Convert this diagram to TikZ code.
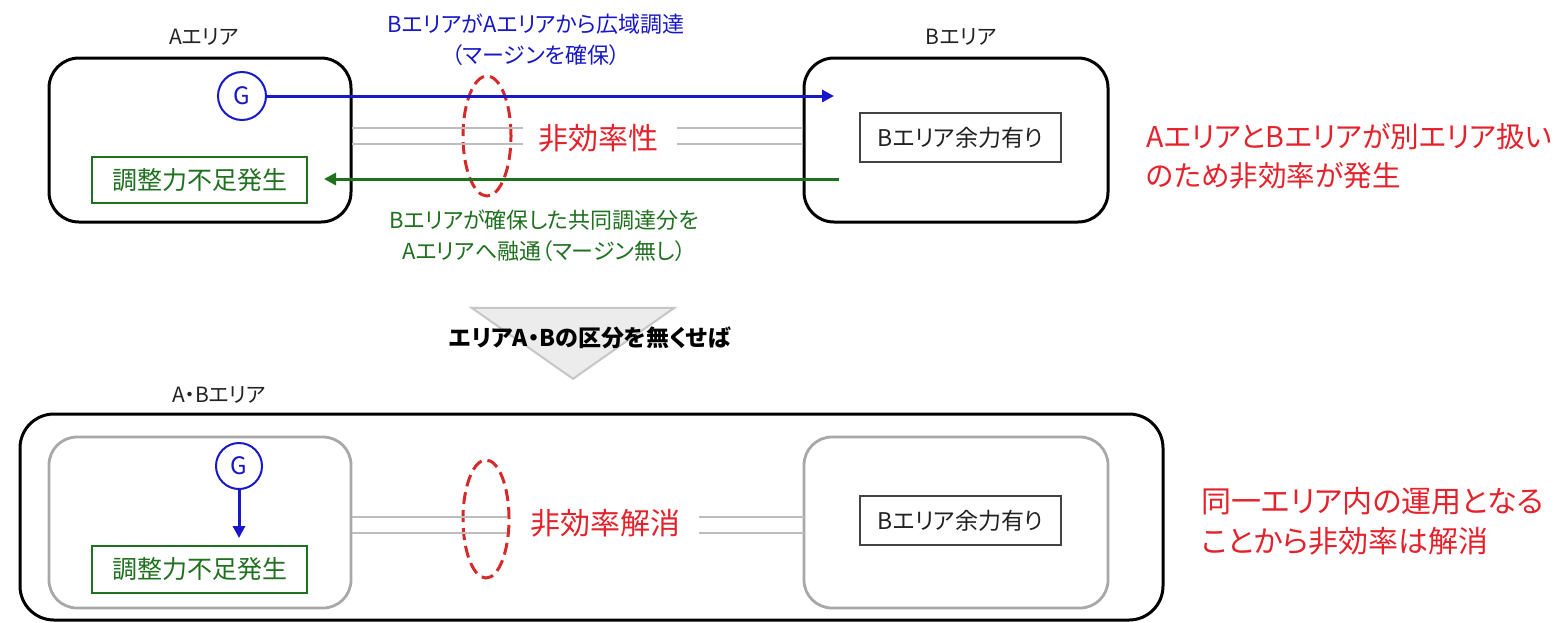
\documentclass[tikz,border=0pt]{standalone}
\usepackage{fontspec}
\setmainfont{Noto Sans CJK JP}[CharacterWidth=AlternateProportional]
\usetikzlibrary{arrows.meta,shapes.geometric}
\definecolor{myblue}{HTML}{1818C8}
\definecolor{mygreen}{HTML}{1F701F}
\definecolor{myred}{HTML}{E4222C}
\definecolor{ellred}{HTML}{D62A2A}
\definecolor{txtdark}{HTML}{222222}
\definecolor{boxgray}{HTML}{A8A8A8}
\definecolor{linegray}{HTML}{BDBDBD}
\definecolor{trifill}{HTML}{ECECEC}
\definecolor{triedge}{HTML}{C6C6C6}
\tikzset{
  areabox/.style={draw=black, line width=1.5pt, rounded corners=15pt, minimum width=#1, inner sep=0pt},
  innerbox/.style={draw=boxgray, line width=1.4pt, rounded corners=14pt, inner sep=0pt},
  greenbox/.style={draw=mygreen, line width=0.7pt, text=mygreen, minimum width=107.5pt, minimum height=23pt, inner sep=0pt, font=\fontsize{12.5}{14}\selectfont},
  surplusbox/.style={draw=txtdark!85, line width=0.7pt, text=txtdark, minimum width=100.5pt, minimum height=24.5pt, inner sep=0pt, font=\fontsize{11.5}{14}\selectfont},
  gcircle/.style={circle, draw=myblue, line width=1pt, text=myblue, minimum size=24pt, inner sep=0pt, font=\fontsize{12}{14}\selectfont},
  dashell/.style={ellipse, draw=ellred, line width=1.5pt, dash pattern=on 6pt off 3pt, minimum width=24pt, minimum height=60pt, inner sep=0pt},
  arealabel/.style={text=txtdark, font=\fontsize{10.5}{12}\selectfont, inner sep=0pt},
  notelabel/.style={align=center, inner sep=0pt, font=\fontsize{11}{15.5}\selectfont},
  inefflabel/.style={text=myred, inner sep=0pt, font=\fontsize{15}{18}\selectfont},
  sidenote/.style={text=myred, align=left, anchor=west, inner sep=0pt, font=\fontsize{15}{20}\selectfont},
  grayline/.style={draw=linegray, line width=1.2pt},
  blueflow/.style={draw=myblue, line width=1.5pt, -{Triangle[length=6pt,width=6pt]}},
  greenflow/.style={draw=mygreen, line width=1.5pt, -{Triangle[length=6pt,width=6pt]}}
}
\begin{document}
\begin{tikzpicture}[x=0.5pt,y=-0.5pt]
\fill[white] (0,0) rectangle (1566,622);
\useasboundingbox (0,0) rectangle (1566,622);

% ---------- top section ----------
\node[arealabel] (alabel) at (204,37) {Aエリア};
\node[arealabel] (blabel) at (961,37) {Bエリア};
\node[areabox=151pt, minimum height=82pt] (abox) at (200,140) {};
\node[areabox=152pt, minimum height=82pt] (bbox) at (956,140) {};

\node[gcircle] (g1) at (242,96) {G};
\node[greenbox] (short1) at (199.5,180) {調整力不足発生};
\node[surplusbox] (surp1) at (960.5,137.5) {Bエリア余力有り};

\node[dashell] (ell1) at (487,136) {};
\node[inefflabel] (ineff1) at (598,138) {非効率性};

\coordinate (gl1a) at (352,128); \coordinate (gl1b) at (523,128);
\coordinate (gl2a) at (352,144); \coordinate (gl2b) at (523,144);
\coordinate (gr1a) at (677,128); \coordinate (gr1b) at (803,128);
\coordinate (gr2a) at (677,144); \coordinate (gr2b) at (803,144);
\draw[grayline] (gl1a) -- (gl1b);
\draw[grayline] (gl2a) -- (gl2b);
\draw[grayline] (gr1a) -- (gr1b);
\draw[grayline] (gr2a) -- (gr2b);

\coordinate (btip) at (834,96);
\draw[blueflow] (g1.east) -- (btip);
\coordinate (gstart) at (839,179);
\coordinate (gtip) at (324,179);
\draw[greenflow] (gstart) -- (gtip);

\node[notelabel, text=myblue] (bluenote) at (536,40) {BエリアがAエリアから広域調達\\（マージンを確保）};
\node[notelabel, text=mygreen] (greennote) at (544,236) {Bエリアが確保した共同調達分を\\Aエリアへ融通（マージン無し）};

\node[sidenote, font=\fontsize{14.3}{19.5}\selectfont] (side1) at (1146,156) {AエリアとBエリアが別エリア扱い\\のため非効率が発生};

% ---------- middle ----------
\node[draw=triedge, fill=trifill, line width=1pt, isosceles triangle, isosceles triangle apex angle=110, shape border rotate=-90, minimum height=35.5pt, inner sep=0pt, anchor=apex] (tri) at (573,380) {};
\node[inner sep=0pt, text=black, font=\fontsize{11.5}{14}\selectfont\bfseries] (cond) at (590,338) {エリアA・Bの区分を無くせば};

% ---------- bottom section ----------
\node[arealabel] (ablabel) at (219,395) {A・Bエリア};
\node[areabox=571.5pt, minimum height=103pt, rounded corners=17pt] (bigbox) at (591.5,517) {};
\node[innerbox, minimum width=151pt, minimum height=85.5pt] (ain) at (200,522.5) {};
\node[innerbox, minimum width=152pt, minimum height=85.5pt] (bin) at (956,522.5) {};

\node[gcircle, minimum size=23pt] (g2) at (239,466) {G};
\node[greenbox, minimum height=23.5pt] (short2) at (199.5,569.5) {調整力不足発生};
\coordinate (g2tip) at (239,538);
\draw[blueflow] (g2.south) -- (g2tip);
\node[surplusbox] (surp2) at (960.5,520.5) {Bエリア余力有り};

\node[dashell, minimum width=23pt, minimum height=59pt] (ell2) at (486,519) {};
\node[inefflabel] (ineff2) at (605,523) {非効率解消};

\coordinate (hl1a) at (352,517); \coordinate (hl1b) at (507,517);
\coordinate (hl2a) at (352,533); \coordinate (hl2b) at (507,533);
\coordinate (hr1a) at (699,517); \coordinate (hr1b) at (804,517);
\coordinate (hr2a) at (699,533); \coordinate (hr2b) at (804,533);
\draw[grayline] (hl1a) -- (hl1b);
\draw[grayline] (hl2a) -- (hl2b);
\draw[grayline] (hr1a) -- (hr1b);
\draw[grayline] (hr2a) -- (hr2b);

\node[sidenote] (side2) at (1201,521) {同一エリア内の運用となる\\ことから非効率は解消};
\end{tikzpicture}
\end{document}
